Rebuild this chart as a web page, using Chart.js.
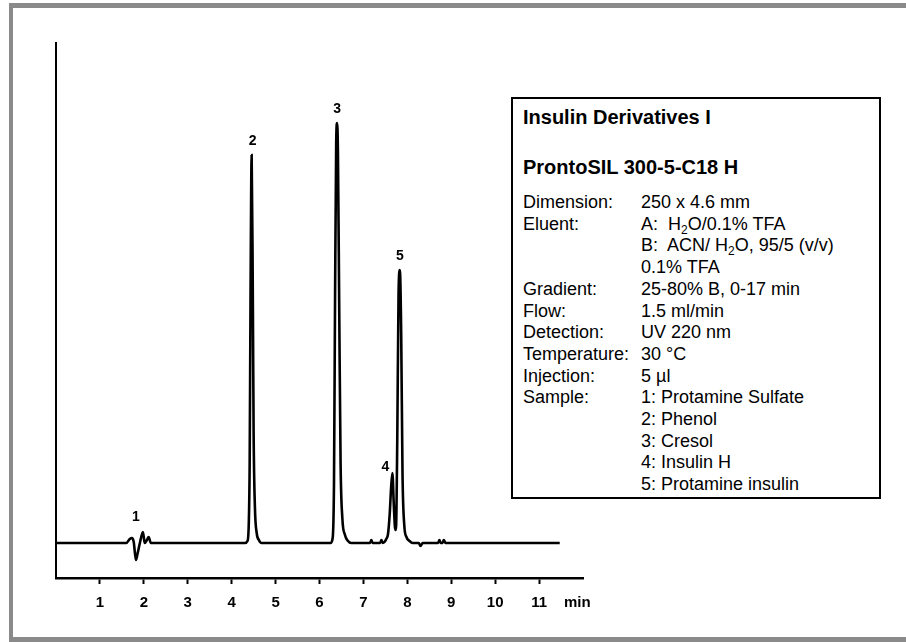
<!DOCTYPE html>
<html>
<head>
<meta charset="utf-8">
<script src="https://cdn.jsdelivr.net/npm/chart.js@4.4.1/dist/chart.umd.min.js"></script>
<style>
  html, body { margin: 0; padding: 0; background: #fff; }
  body { width: 906px; height: 642px; position: relative; overflow: hidden; font-family: "Liberation Sans", Arial, sans-serif; }
  #frame { position: absolute; left: 9px; top: 3px; width: 1000px; height: 629px; border-top: 5px solid #8a8a8a; border-left: 4px solid #8a8a8a; border-bottom: 5px solid #8a8a8a; }
  #wrap { position: absolute; left: 0; top: 0; width: 906px; height: 642px; }
  #info { position: absolute; left: 511px; top: 97px; width: 370px; height: 402px; border: 2px solid #000; box-sizing: border-box; background: #fff; color: #000; }
  #info .t { position: absolute; left: 10px; font-weight: bold; font-size: 20px; line-height: 24px; white-space: nowrap; }
  #info .row { position: absolute; font-size: 18px; line-height: 21.7px; white-space: nowrap; }
  #info .k { left: 10px; }
  #info .v { left: 128px; }
  sub { font-size: 12px; line-height: 0; vertical-align: -4px; }
</style>
</head>
<body>
<div id="frame"></div>
<div id="wrap"><canvas id="c" width="906" height="642"></canvas></div>
<div id="info"></div>
<script>
// ---- data (time in min, detector signal in arbitrary units) ----
const times = [
  0, 1.60, 1.68, 1.73, 1.77, 1.82, 1.86, 1.91, 1.98, 2.02, 2.07, 2.11, 2.16,
  4.30, 4.36, 4.39, 4.41, 4.43, 4.455, 4.48, 4.50, 4.53, 4.57, 4.62, 4.68,
  6.25, 6.30, 6.33, 6.355, 6.38, 6.40, 6.42, 6.45, 6.48, 6.52, 6.58, 6.65, 6.72,
  7.15, 7.18, 7.21, 7.38, 7.41, 7.44,
  7.48, 7.52, 7.56, 7.60, 7.63, 7.66, 7.69, 7.72, 7.74, 7.77, 7.80, 7.83, 7.86, 7.89, 7.93, 7.98, 8.05, 8.12,
  8.26, 8.30, 8.35, 8.70, 8.73, 8.76, 8.80, 8.83, 8.87, 11.47
];
const signal = [
  0, 0, 4, 5, 1, -17, -10, 0, 11, 0, 3, 6, 0,
  0, 2, 20, 80, 250, 388, 260, 110, 35, 10, 3, 0,
  0, 5, 60, 250, 400, 420, 390, 230, 80, 25, 8, 2, 0,
  0, 3, 0, 0, 3, 0,
  1, 4, 9, 30, 55, 70, 40, 15, 13, 100, 250, 273, 210, 70, 18, 6, 2, 0,
  0, -3, 0, 0, 3, 0, 0, 3, 0, 0
];
const tickValues = [1, 2, 3, 4, 5, 6, 7, 8, 9, 10, 11];
const axisUnit = 'min';
const peakNumbers = ['1', '2', '3', '4', '5'];
const peakTimes = [1.98, 4.455, 6.40, 7.66, 7.83];

const infoTitle1 = 'Insulin Derivatives I';
const infoTitle2 = 'ProntoSIL 300-5-C18 H';
const infoKeys = ['Dimension:', 'Eluent:', '', '', 'Gradient:', 'Flow:', 'Detection:', 'Temperature:', 'Injection:', 'Sample:', '', '', '', ''];
const infoValues = ['250 x 4.6 mm', 'A:&nbsp; H<sub>2</sub>O/0.1% TFA', 'B:&nbsp; ACN/ H<sub>2</sub>O, 95/5 (v/v)', '0.1% TFA',
  '25-80% B, 0-17 min', '1.5 ml/min', 'UV 220 nm', '30 °C', '5 µl',
  '1: Protamine Sulfate', '2: Phenol', '3: Cresol', '4: Insulin H', '5: Protamine insulin'];

// ---- info box ----
const info = document.getElementById('info');
let html = '<div class="t" style="top:6px">' + infoTitle1 + '</div>';
html += '<div class="t" style="top:56px">' + infoTitle2 + '</div>';
infoKeys.forEach((k, i) => {
  const top = 93 + i * 21.7;
  if (k) html += '<div class="row k" style="top:' + top + 'px">' + k + '</div>';
  html += '<div class="row v" style="top:' + top + 'px">' + infoValues[i] + '</div>';
});
info.innerHTML = html;

// ---- chart ----
const points = times.map((t, i) => ({ x: t, y: signal[i] }));

const peakLabelPlugin = {
  id: 'peakLabels',
  afterDatasetsDraw(chart) {
    const { ctx, scales: { x, y } } = chart;
    ctx.save();
    ctx.fillStyle = '#000';
    ctx.font = 'bold 14px "Liberation Sans", Arial, sans-serif';
    ctx.textAlign = 'center';
    ctx.textBaseline = 'middle';
    peakNumbers.forEach((lab, i) => {
      const t = peakTimes[i];
      let top = 0;
      times.forEach((tt, j) => { if (Math.abs(tt - t) < 0.04) top = Math.max(top, signal[j]); });
      let px = x.getPixelForValue(t);
      let py = y.getPixelForValue(top) - 14;
      if (lab === '1') { px -= 7; py -= 1; }
      if (lab === '4') { px -= 7; py += 8; }
      if (lab === '2') { px += 1; }
      ctx.fillText(lab, px, py);
    });
    // axis unit
    ctx.font = 'bold 15px "Liberation Sans", Arial, sans-serif';
    ctx.fillText(axisUnit, x.getPixelForValue(11.87), chart.chartArea.bottom + 25);
    ctx.restore();
  }
};

new Chart(document.getElementById('c'), {
  type: 'line',
  data: {
    datasets: [{
      data: points,
      borderColor: '#000',
      borderWidth: 2.6,
      pointRadius: 0,
      fill: false,
      cubicInterpolationMode: 'monotone',
      clip: false
    }]
  },
  options: {
    responsive: false,
    animation: false,
    events: [],
    layout: { padding: { left: 56, top: 43, right: 323, bottom: 0 } },
    plugins: { legend: { display: false }, tooltip: { enabled: false } },
    scales: {
      x: {
        type: 'linear',
        min: 0,
        max: 12,
        afterBuildTicks: s => { s.ticks = tickValues.map(v => ({ value: v })); },
        afterFit: s => { s.height = 64; },
        border: { display: true, color: '#000', width: 2.5 },
        grid: { display: true, drawOnChartArea: false, drawTicks: true, tickLength: 6, tickWidth: 2, tickColor: '#000' },
        ticks: { color: '#000', padding: 10, maxRotation: 0, autoSkip: false,
          font: { family: '"Liberation Sans", Arial, sans-serif', size: 15, weight: 'bold' } }
      },
      y: {
        type: 'linear',
        min: -35,
        max: 500,
        afterFit: s => { s.width = 0; },
        border: { display: true, color: '#000', width: 2 },
        grid: { display: false, drawTicks: false },
        ticks: { display: false }
      }
    }
  },
  plugins: [peakLabelPlugin]
});
</script>
</body>
</html>
